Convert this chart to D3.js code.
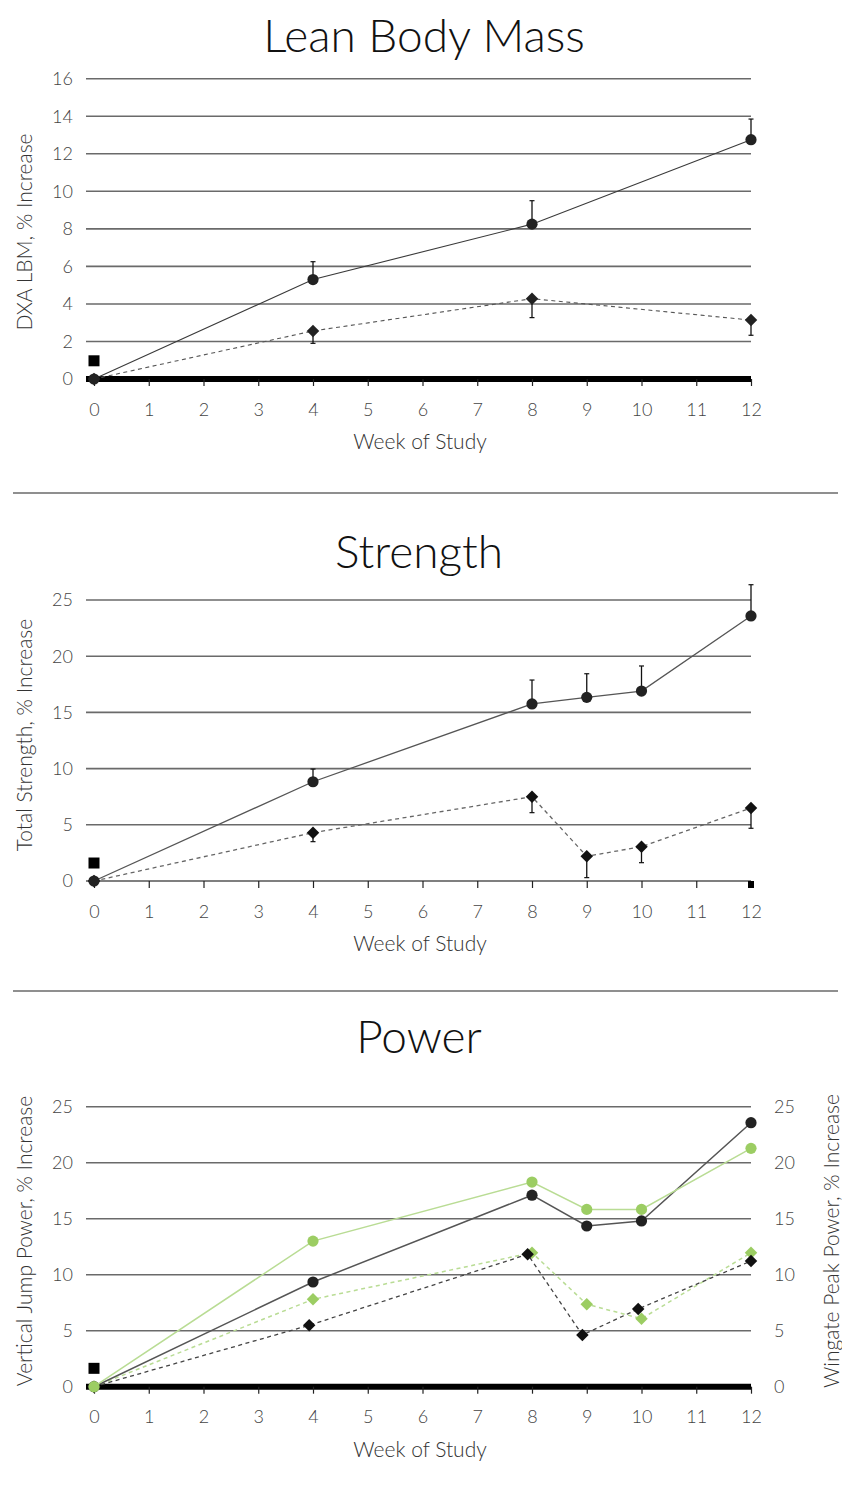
<!DOCTYPE html>
<html>
<head>
<meta charset="utf-8">
<script src="https://cdn.jsdelivr.net/npm/d3@7"></script>
<style>
  html, body { margin: 0; padding: 0; background: #fff; }
  svg { display: block; }
  text { font-family: Lato, "Open Sans", "Noto Sans", sans-serif; }
</style>
</head>
<body>
<svg id="chart" width="842" height="1504"></svg>
<script>
// ---------- DATA ----------
const weekTicks = [0,1,2,3,4,5,6,7,8,9,10,11,12];

// Lean Body Mass
const lbmTitle = "Lean Body Mass";
const lbmYLabel = "DXA LBM, % Increase";
const lbmYTicks = [0,2,4,6,8,10,12,14,16];
const lbmWeeks = [0,4,8,12];
const lbmCircle = [0,5.3,8.25,12.75];
const lbmCircleErrTop = [0,6.25,9.5,13.85];
const lbmDiamond = [0,2.56,4.28,3.14];
const lbmDiamondErrBottom = [0,1.9,3.27,2.33];
const lbmSquare = 0.97;

// Strength
const strTitle = "Strength";
const strYLabel = "Total Strength, % Increase";
const strYTicks = [0,5,10,15,20,25];
const strWeeks = [0,4,8,9,10,12];
const strCircle = [0,8.83,15.75,16.34,16.9,23.58];
const strCircleErrTop = [0,9.96,17.88,18.44,19.13,26.36];
const strDiamond = [0,4.3,7.5,2.2,3.05,6.5];
const strDiamondErrBottom = [0,3.5,6.08,0.3,1.63,4.69];
const strSquare = 1.6;

// Power
const powTitle = "Power";
const powYLabel = "Vertical Jump Power, % Increase";
const powY2Label = "Wingate Peak Power, % Increase";
const powYTicks = [0,5,10,15,20,25];
const powWeeks = [0,4,8,9,10,12];
const powBlackCircle = [0,9.35,17.1,14.35,14.8,23.57];
const powGreenCircle = [0,13.0,18.27,15.83,15.83,21.28];
const powGreenDiamond = [0,7.8,11.96,7.36,6.07,11.96];
const powBlackDiamondWeeks = [0,3.93,7.92,8.92,9.94,12];
const powBlackDiamond = [0,5.48,11.82,4.62,6.94,11.22];
const powSquare = 1.64;

// ---------- DRAW ----------
const svg = d3.select("#chart");
const X0 = 94, X1 = 751, GRID_X0 = 86;
const GREEN = "#9ccd63", GREEN_LINE = "#b9dc94", DARK = "#222";
const TICK_FS = 18, LABEL_FS = 21;

function panel(o) {
  const g = svg.append("g");
  const x = d3.scaleLinear().domain([0,12]).range([X0, X1]);
  const y = d3.scaleLinear().domain([0, o.yMax]).range([o.y0, o.yTop]);

  g.append("text").attr("x", o.titleX).attr("y", o.titleY).attr("text-anchor","middle")
    .attr("font-size", 46).attr("font-weight", 300).attr("fill", "#111").text(o.title);

  g.selectAll(".grid").data(o.yTicks.filter(d => d !== 0)).join("line")
    .attr("x1", GRID_X0).attr("x2", X1).attr("y1", d => y(d)).attr("y2", d => y(d))
    .attr("stroke", "#6a6a6a").attr("stroke-width", 1.6);

  g.selectAll(".yl").data(o.yTicks).join("text")
    .attr("x", 73).attr("y", d => y(d)).attr("dy", "0.36em").attr("text-anchor", "end")
    .attr("font-size", TICK_FS).attr("font-weight", 300).attr("fill", "#444").text(d => d);

  if (o.y2) {
    g.selectAll(".yl2").data(o.yTicks).join("text")
      .attr("x", 774).attr("y", d => y(d)).attr("dy", "0.36em").attr("text-anchor", "start")
      .attr("font-size", TICK_FS).attr("font-weight", 300).attr("fill", "#444").text(d => d);
    g.append("text").attr("transform", `translate(839,${o.labelCY}) rotate(-90)`)
      .attr("text-anchor","middle").attr("font-size", LABEL_FS).attr("font-weight", 300).attr("fill","#333").text(o.y2);
  }

  if (o.thickAxis) {
    g.append("line").attr("x1", GRID_X0).attr("x2", X1).attr("y1", y(0)).attr("y2", y(0))
      .attr("stroke", "#000").attr("stroke-width", 6);
  } else {
    g.append("line").attr("x1", GRID_X0).attr("x2", X1).attr("y1", y(0)).attr("y2", y(0))
      .attr("stroke", "#555").attr("stroke-width", 1.6);
  }
  const xa = d3.axisBottom(x).tickValues(weekTicks).tickSize(7).tickPadding(17).tickFormat(d3.format("d"));
  const ax = g.append("g").attr("transform", `translate(0,${y(0)})`).call(xa);
  ax.select(".domain").remove();
  ax.selectAll(".tick line").attr("stroke", "#222").attr("stroke-width", 1.2);
  ax.selectAll(".tick text").attr("font-size", TICK_FS).attr("font-weight", 300).attr("fill", "#444")
    .attr("font-family", "Lato, 'Open Sans', sans-serif");

  g.append("text").attr("x", 420).attr("y", o.xLabelY).attr("text-anchor","middle")
    .attr("font-size", LABEL_FS).attr("font-weight", 300).attr("fill","#333").text("Week of Study");

  g.append("text").attr("transform", `translate(32,${o.labelCY}) rotate(-90)`)
    .attr("text-anchor","middle").attr("font-size", LABEL_FS).attr("font-weight", 300).attr("fill","#333").text(o.yLabel);

  g.append("rect").attr("x", x(0) - 5.5).attr("y", y(o.square) - 5.5).attr("width", 11).attr("height", 11).attr("fill", "#000");

  return {g, x, y};
}

function series(p, weeks, vals, opt) {
  const {g, x, y} = p;
  const pts = weeks.map((w,i) => [w, vals[i]]);
  const line = d3.line().x(d => x(d[0])).y(d => y(d[1]));
  g.append("path").attr("d", line(pts)).attr("fill","none")
    .attr("stroke", opt.lineColor).attr("stroke-width", opt.lw || 1.3)
    .attr("stroke-dasharray", opt.dashed ? "4,3.5" : null);
  if (opt.err) {
    const e = g.append("g");
    pts.forEach((d,i) => {
      const ev = opt.err[i];
      if (ev === d[1]) return;
      e.append("line").attr("x1", x(d[0])).attr("x2", x(d[0])).attr("y1", y(d[1])).attr("y2", y(ev))
        .attr("stroke", "#111").attr("stroke-width", 1.3);
      e.append("line").attr("x1", x(d[0]) - 2.5).attr("x2", x(d[0]) + 2.5).attr("y1", y(ev)).attr("y2", y(ev))
        .attr("stroke", "#111").attr("stroke-width", 1.2);
    });
  }
  if (opt.shape === "circle") {
    g.selectAll(null).data(pts).join("circle").attr("cx", d => x(d[0])).attr("cy", d => y(d[1]))
      .attr("r", 5.6).attr("fill", opt.markColor);
  } else {
    g.selectAll(null).data(pts).join("path")
      .attr("transform", d => `translate(${x(d[0])},${y(d[1])}) rotate(45)`)
      .attr("d", d3.symbol().type(d3.symbolSquare).size(78)()).attr("fill", opt.markColor);
  }
}

[493, 991].forEach(yy => svg.append("line").attr("x1", 13).attr("x2", 838).attr("y1", yy).attr("y2", yy)
  .attr("stroke", "#8f8f8f").attr("stroke-width", 2));

const p1 = panel({title: lbmTitle, titleX: 424, titleY: 52, yMax: 16, y0: 379, yTop: 78.7, yTicks: lbmYTicks,
  yLabel: lbmYLabel, labelCY: 232, xLabelY: 449, thickAxis: true, square: lbmSquare});
series(p1, lbmWeeks, lbmDiamond, {dashed: true, lineColor: "#555", markColor: DARK, shape: "diamond", err: lbmDiamondErrBottom, lw: 1.1});
series(p1, lbmWeeks, lbmCircle, {lineColor: "#3a3a3a", markColor: DARK, shape: "circle", err: lbmCircleErrTop, lw: 1.1});

const p2 = panel({title: strTitle, titleX: 419, titleY: 568, yMax: 25, y0: 881, yTop: 600, yTicks: strYTicks,
  yLabel: strYLabel, labelCY: 735, xLabelY: 951, thickAxis: false, square: strSquare});
p2.g.append("rect").attr("x", p2.x(12) - 3).attr("y", p2.y(0)).attr("width", 6).attr("height", 7).attr("fill", "#000");
series(p2, strWeeks, strDiamond, {dashed: true, lineColor: "#666", markColor: "#111", shape: "diamond", err: strDiamondErrBottom, lw: 1.3});
series(p2, strWeeks, strCircle, {lineColor: "#555", markColor: DARK, shape: "circle", err: strCircleErrTop, lw: 1.3});

const p3 = panel({title: powTitle, titleX: 419, titleY: 1053, yMax: 25, y0: 1386.7, yTop: 1106.7, yTicks: powYTicks,
  yLabel: powYLabel, labelCY: 1241, y2: powY2Label, xLabelY: 1457, thickAxis: true, square: powSquare});
series(p3, powWeeks, powGreenDiamond, {dashed: true, lineColor: GREEN_LINE, markColor: GREEN, shape: "diamond", lw: 1.5});
series(p3, powBlackDiamondWeeks, powBlackDiamond, {dashed: true, lineColor: "#444", markColor: "#111", shape: "diamond", lw: 1.3});
series(p3, powWeeks, powBlackCircle, {lineColor: "#555", markColor: DARK, shape: "circle", lw: 1.5});
series(p3, powWeeks, powGreenCircle, {lineColor: GREEN_LINE, markColor: GREEN, shape: "circle", lw: 1.5});
</script>
</body>
</html>
